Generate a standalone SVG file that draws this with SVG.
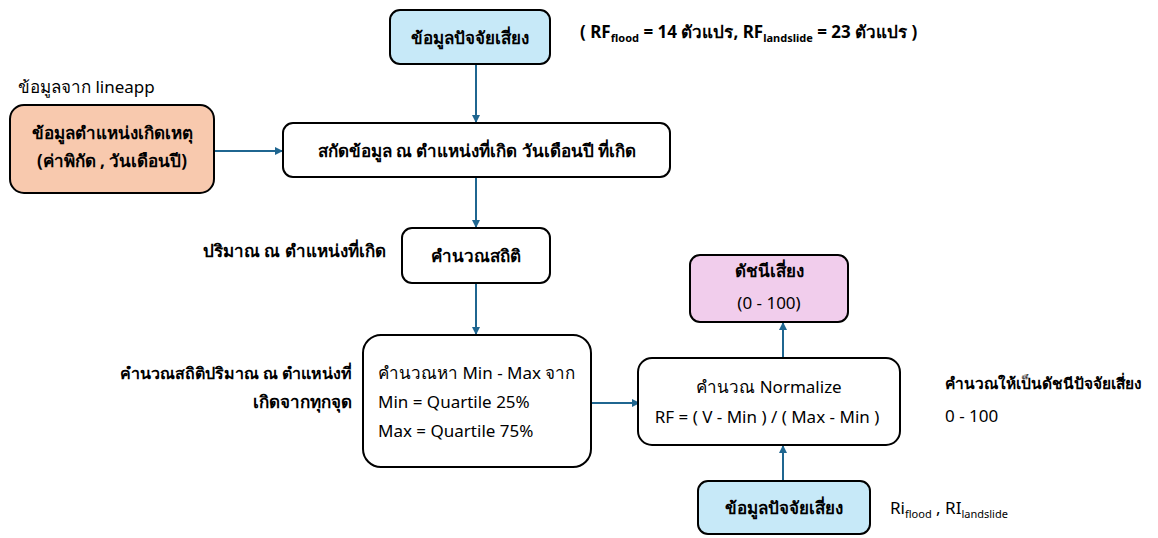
<svg xmlns="http://www.w3.org/2000/svg" width="1158" height="538" viewBox="0 0 1158 538">
<defs>
<marker id="ah" markerWidth="8" markerHeight="8" refX="7" refY="4" orient="auto" markerUnits="userSpaceOnUse">
<path d="M0,0 L8,4 L0,8 Z" fill="#1f6690"/>
</marker>
<style>
.box{stroke:#000;stroke-width:2}
.w{fill:#fff}
.blue{fill:#c7e9f8}
.org{fill:#f8c9ae}
.pink{fill:#f1cdec}
text{font-family:"Noto Sans","DejaVu Sans",sans-serif;font-size:17px;fill:#000}
.b{font-weight:bold}
.c{text-anchor:middle}
.r{text-anchor:end}
.sub{font-size:11px}
.conn line{stroke:#1f6690;stroke-width:2;marker-end:url(#ah)}
</style>
</defs>
<rect width="1158" height="538" fill="#fff"/>
<g class="conn">
<line x1="476" y1="64" x2="476" y2="122"/>
<line x1="214" y1="151" x2="282" y2="151"/>
<line x1="476" y1="177" x2="476" y2="227"/>
<line x1="476" y1="283" x2="476" y2="334"/>
<line x1="591" y1="403" x2="639" y2="403"/>
<line x1="783" y1="358" x2="783" y2="323"/>
<line x1="783" y1="481" x2="783" y2="446"/>
</g>
<g id="n1">
<rect class="box blue" x="390" y="10" width="160" height="54" rx="10"/>
<text class="b c" x="470" y="44">ข้อมูลปัจจัยเสี่ยง</text>
</g>
<text class="b" x="580" y="38">( RF<tspan class="sub" dy="4">flood</tspan><tspan dy="-4"> = 14 ตัวแปร, RF</tspan><tspan class="sub" dy="4">landslide</tspan><tspan dy="-4"> = 23 ตัวแปร )</tspan></text>
<text x="18" y="93">ข้อมูลจาก lineapp</text>
<g id="n2">
<rect class="box org" x="10" y="105" width="204" height="88" rx="14"/>
<text class="b c" x="112" y="139">ข้อมูลตำแหน่งเกิดเหตุ</text>
<text class="b c" x="112" y="167">(ค่าพิกัด , วันเดือนปี)</text>
</g>
<g id="n3">
<rect class="box w" x="283" y="123" width="387" height="54" rx="10"/>
<text class="b c" x="477" y="157">สกัดข้อมูล ณ ตำแหน่งที่เกิด วันเดือนปี ที่เกิด</text>
</g>
<text class="b" x="203" y="257">ปริมาณ ณ ตำแหน่งที่เกิด</text>
<g id="n4">
<rect class="box w" x="402" y="228" width="148" height="55" rx="10"/>
<text class="b c" x="476" y="262">คำนวณสถิติ</text>
</g>
<text class="b r" x="352" y="379" style="font-size:16px">คำนวณสถิติปริมาณ ณ ตำแหน่งที่</text>
<text class="b r" x="352" y="408">เกิดจากทุกจุด</text>
<g id="n5">
<rect class="box w" x="363" y="335" width="228" height="132" rx="18"/>
<text x="378" y="379">คำนวณหา Min - Max จาก</text>
<text x="378" y="408">Min = Quartile 25%</text>
<text x="378" y="437">Max = Quartile 75%</text>
</g>
<g id="n6">
<rect class="box pink" x="690" y="255" width="158" height="67" rx="10"/>
<text class="b c" x="769" y="277">ดัชนีเสี่ยง</text>
<text class="c" x="769" y="309">(0 - 100)</text>
</g>
<g id="n7">
<rect class="box w" x="638" y="358" width="262" height="87" rx="14"/>
<text class="c" x="769" y="393">คำนวณ Normalize</text>
<text class="c" x="767" y="423">RF = ( V  - Min ) / ( Max - Min )</text>
</g>
<text class="b" x="945" y="389" style="font-size:15.5px">คำนวณให้เป็นดัชนีปัจจัยเสี่ยง</text>
<text x="945" y="422">0 - 100</text>
<g id="n8">
<rect class="box blue" x="698" y="481" width="172" height="53" rx="10"/>
<text class="b c" x="784" y="514">ข้อมูลปัจจัยเสี่ยง</text>
</g>
<text x="890" y="514">Ri<tspan class="sub" dy="4">flood</tspan><tspan dy="-4"> , RI</tspan><tspan class="sub" dy="4">landslide</tspan></text>
</svg>
